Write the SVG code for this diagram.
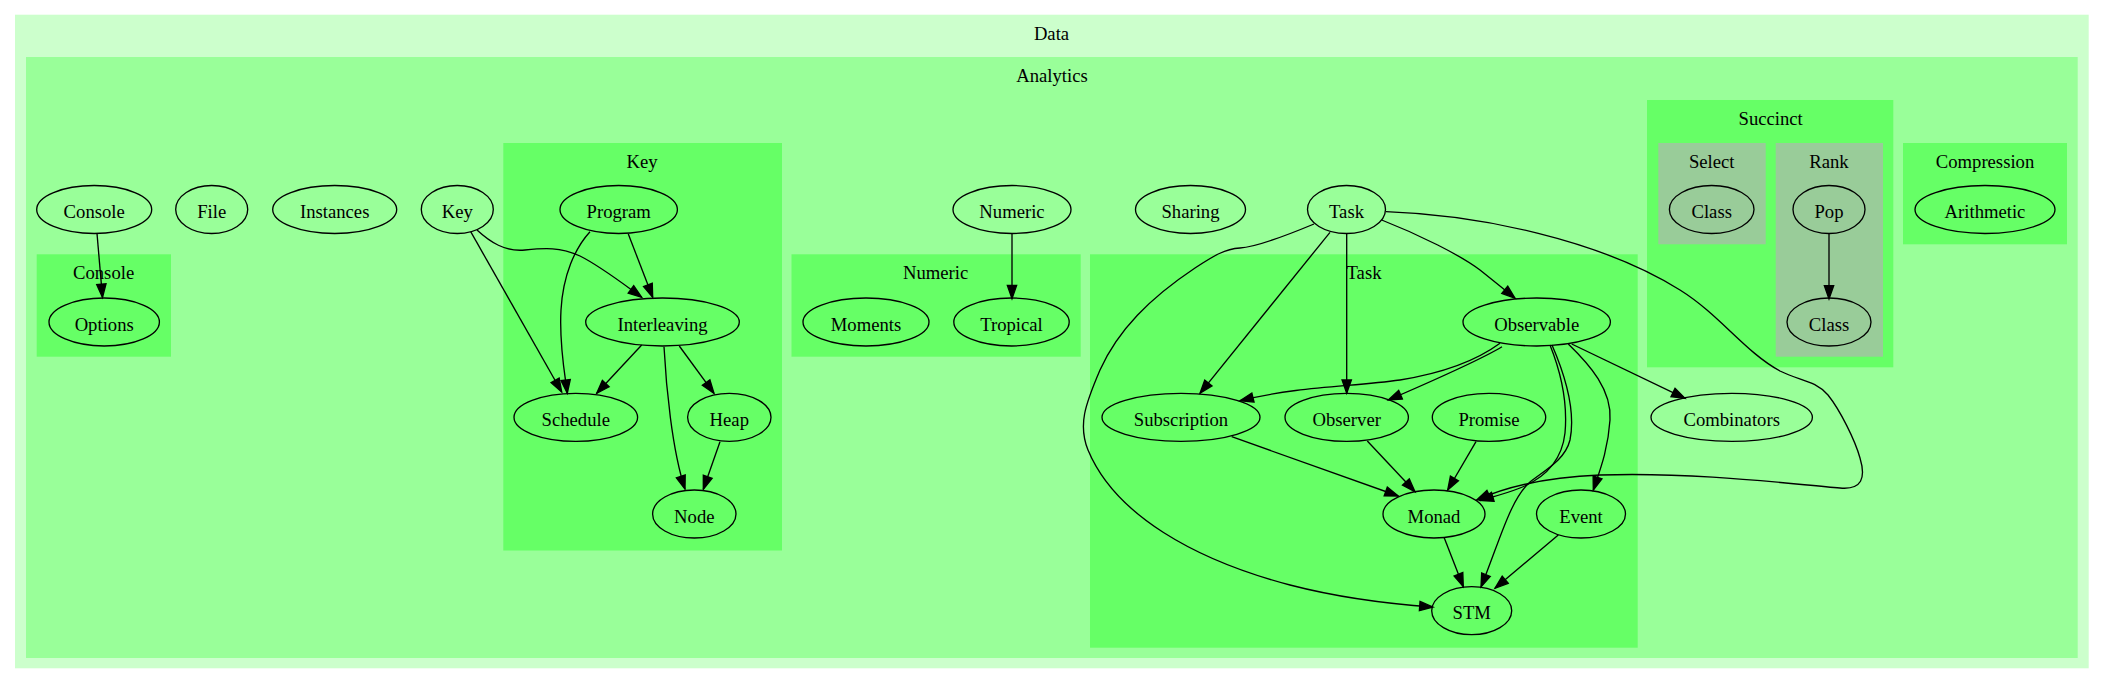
<svg xmlns="http://www.w3.org/2000/svg" width="2104" height="683" viewBox="0 0 2104 683">
<defs>
<style>
.cl0{fill:#ccffcc;stroke:none}
.cl1{fill:#99ff99;stroke:none}
.cl2{fill:#66ff66;stroke:none}
.cl3{fill:#99cc99;stroke:none}
.n ellipse{fill:none;stroke:#000;stroke-width:1.33}
text{font-family:"Liberation Serif","Times New Roman",serif;font-size:18.67px;fill:#000;text-anchor:middle}
.e path{fill:none;stroke:#000;stroke-width:1.33;marker-end:url(#ah)}
</style>
<marker id="ah" markerUnits="userSpaceOnUse" markerWidth="16" markerHeight="12" refX="13.33" refY="4.67" orient="auto" overflow="visible">
<path d="M0,0 L13.33,4.67 L0,9.33 Z" fill="#000" stroke="#000" stroke-width="1.33"/>
</marker>
</defs>
<rect width="2104" height="683" fill="#fff"/>
<g id="cluster_data">
<rect class="cl0" x="15" y="14.7" width="2073.7" height="653.6"/>
<text x="1051.5" y="39.7">Data</text>
</g>
<g id="cluster_analytics">
<rect class="cl1" x="26" y="57" width="2051.7" height="601"/>
<text x="1052" y="82">Analytics</text>
</g>
<g id="cluster_console">
<rect class="cl2" x="36.7" y="254.3" width="134.3" height="102.4"/>
<text x="103.6" y="279.3">Console</text>
</g>
<g id="cluster_key">
<rect class="cl2" x="503.3" y="143" width="278.7" height="407.5"/>
<text x="642" y="168">Key</text>
</g>
<g id="cluster_numeric">
<rect class="cl2" x="791.5" y="254.3" width="289.2" height="102.4"/>
<text x="935.6" y="279.3">Numeric</text>
</g>
<g id="cluster_task">
<rect class="cl2" x="1090" y="254.3" width="547.7" height="393.4"/>
<text x="1364" y="279.3">Task</text>
</g>
<g id="cluster_succinct">
<rect class="cl2" x="1647" y="100" width="246.3" height="267.3"/>
<text x="1770.7" y="125">Succinct</text>
</g>
<g id="cluster_select">
<rect class="cl3" x="1658.3" y="143" width="107.4" height="101.3"/>
<text x="1711.7" y="168">Select</text>
</g>
<g id="cluster_rank">
<rect class="cl3" x="1775.7" y="143" width="107.3" height="213.7"/>
<text x="1829" y="168">Rank</text>
</g>
<g id="cluster_compression">
<rect class="cl2" x="1903" y="143" width="164" height="101.3"/>
<text x="1985" y="168">Compression</text>
</g>

<g id="edges" class="e">
<path d="M97,233.5 L102.5,297.5"/>
<path d="M477,230 C490,242 505,252 525,250 C545,248 560,247 580,256 C600,266 618,280 641.7,297.3"/>
<path d="M470.7,231.7 L561.7,392"/>
<path d="M590,231.7 C575,248 563,275 561,310 C559,345 565,375 567.3,393.3"/>
<path d="M628.3,234 L652.7,297.3"/>
<path d="M641.7,345 L596.7,393.3"/>
<path d="M679.3,346 L714,393.3"/>
<path d="M664,346.7 C666,385 672,450 685,489"/>
<path d="M720,441.7 L703.3,489.3"/>
<path d="M1012,234 L1012,298.7"/>
<path d="M1829,234 L1829,299"/>
<path d="M1381.7,220 C1420,235 1460,255 1480,270 C1495,282 1505,290 1515,298.3"/>
<path d="M1330,232.3 L1200,393.3"/>
<path d="M1346.7,233.3 L1346.7,393.3"/>
<path d="M1314,224 C1290,234 1258,247 1240,248 C1225,249 1215,255 1195,268 C1150,298 1118,330 1100,370 C1085,405 1078,425 1088,450 C1115,515 1195,560 1290,585 C1340,598 1390,604 1433,607"/>
<path d="M1386,211.7 C1480,215 1600,240 1680,290 C1720,315 1745,352 1780,371 C1800,381 1815,380 1828,395 C1840,410 1855,440 1860,458 C1866,478 1862,490 1840,488 C1790,484 1700,472 1600,475 C1550,477 1510,485 1476.7,500"/>
<path d="M1500,343.3 C1480,358 1450,372 1400,380 C1350,387 1300,386 1240,400.7"/>
<path d="M1502,346.7 C1480,360 1430,382 1388.3,400"/>
<path d="M1550,345 C1560,370 1568,400 1565,433 C1562,460 1545,478 1520,488 C1505,494 1492,497 1480,500.5"/>
<path d="M1552,345 C1565,375 1576,410 1570,440 C1565,460 1545,470 1530,482 C1510,500 1500,540 1481,587"/>
<path d="M1568.3,344 C1590,365 1612,390 1610,420 C1608,450 1600,470 1593.3,490"/>
<path d="M1571.7,344 L1685,398.3"/>
<path d="M1231.7,436.7 L1398.3,496"/>
<path d="M1367.3,441 L1415,491.7"/>
<path d="M1476,441.7 L1447.7,490"/>
<path d="M1444,537.3 L1463.3,586.7"/>
<path d="M1558.3,535 L1495,588.3"/>
</g>

<g id="node_console" class="n"><ellipse cx="94.2" cy="209.5" rx="57.5" ry="24"/><text x="94.2" y="218">Console</text></g>
<g id="node_file" class="n"><ellipse cx="211.7" cy="209.5" rx="36" ry="24"/><text x="211.7" y="218">File</text></g>
<g id="node_instances" class="n"><ellipse cx="334.7" cy="209.5" rx="62" ry="24"/><text x="334.7" y="218">Instances</text></g>
<g id="node_key" class="n"><ellipse cx="457.3" cy="209.5" rx="36" ry="24"/><text x="457.3" y="218">Key</text></g>
<g id="node_program" class="n"><ellipse cx="618.7" cy="209.5" rx="58.7" ry="24"/><text x="618.7" y="218">Program</text></g>
<g id="node_interleaving" class="n"><ellipse cx="662.5" cy="322" rx="76.8" ry="24"/><text x="662.5" y="330.5">Interleaving</text></g>
<g id="node_schedule" class="n"><ellipse cx="575.8" cy="417.3" rx="61.8" ry="24"/><text x="575.8" y="425.8">Schedule</text></g>
<g id="node_heap" class="n"><ellipse cx="729.3" cy="417.3" rx="41.7" ry="24"/><text x="729.3" y="425.8">Heap</text></g>
<g id="node_node" class="n"><ellipse cx="694.3" cy="514" rx="41.7" ry="24"/><text x="694.3" y="522.5">Node</text></g>
<g id="node_options" class="n"><ellipse cx="104.2" cy="322" rx="55.2" ry="24"/><text x="104.2" y="330.5">Options</text></g>
<g id="node_numeric" class="n"><ellipse cx="1012" cy="209.5" rx="59" ry="24"/><text x="1012" y="218">Numeric</text></g>
<g id="node_moments" class="n"><ellipse cx="866" cy="322" rx="63" ry="24"/><text x="866" y="330.5">Moments</text></g>
<g id="node_tropical" class="n"><ellipse cx="1011.5" cy="322" rx="57.7" ry="24"/><text x="1011.5" y="330.5">Tropical</text></g>
<g id="node_sharing" class="n"><ellipse cx="1190.5" cy="209.5" rx="55" ry="24"/><text x="1190.5" y="218">Sharing</text></g>
<g id="node_task" class="n"><ellipse cx="1346.5" cy="209.5" rx="39" ry="24"/><text x="1346.5" y="218">Task</text></g>
<g id="node_observable" class="n"><ellipse cx="1536.7" cy="322" rx="73.7" ry="24"/><text x="1536.7" y="330.5">Observable</text></g>
<g id="node_subscription" class="n"><ellipse cx="1181" cy="417.3" rx="79" ry="24"/><text x="1181" y="425.8">Subscription</text></g>
<g id="node_observer" class="n"><ellipse cx="1346.7" cy="417.3" rx="61.7" ry="24"/><text x="1346.7" y="425.8">Observer</text></g>
<g id="node_promise" class="n"><ellipse cx="1489" cy="417.3" rx="56.7" ry="24"/><text x="1489" y="425.8">Promise</text></g>
<g id="node_combinators" class="n"><ellipse cx="1731.7" cy="417.3" rx="80.7" ry="24"/><text x="1731.7" y="425.8">Combinators</text></g>
<g id="node_monad" class="n"><ellipse cx="1434" cy="514" rx="51" ry="24"/><text x="1434" y="522.5">Monad</text></g>
<g id="node_event" class="n"><ellipse cx="1581" cy="514" rx="44.5" ry="24"/><text x="1581" y="522.5">Event</text></g>
<g id="node_stm" class="n"><ellipse cx="1471.7" cy="610.7" rx="40" ry="24"/><text x="1471.7" y="619.2">STM</text></g>
<g id="node_select_class" class="n"><ellipse cx="1711.7" cy="209.5" rx="42.3" ry="24"/><text x="1711.7" y="218">Class</text></g>
<g id="node_pop" class="n"><ellipse cx="1829" cy="209.5" rx="36" ry="24"/><text x="1829" y="218">Pop</text></g>
<g id="node_rank_class" class="n"><ellipse cx="1829" cy="322" rx="42" ry="24"/><text x="1829" y="330.5">Class</text></g>
<g id="node_arithmetic" class="n"><ellipse cx="1985" cy="209.5" rx="70" ry="24"/><text x="1985" y="218">Arithmetic</text></g>
</svg>
